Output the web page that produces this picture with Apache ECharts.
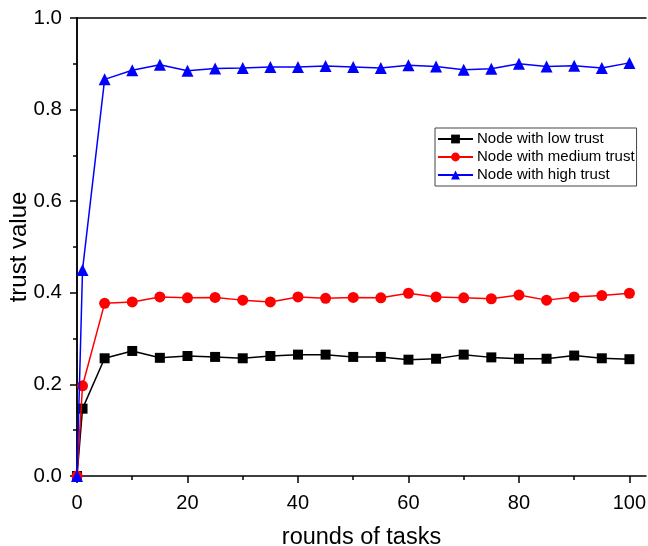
<!DOCTYPE html>
<html>
<head>
<meta charset="utf-8">
<script src="https://cdn.jsdelivr.net/npm/echarts@6/dist/echarts.min.js"></script>
<style>
html,body{margin:0;padding:0;background:#fff;}
#c{width:648px;height:546px;}
</style>
</head>
<body>
<div id="c"></div>
<script>
const rounds = [0, 1, 5, 10, 15, 20, 25, 30, 35, 40, 45, 50, 55, 60, 65, 70, 75, 80, 85, 90, 95, 100];
const lowTrust = [0, 0.147, 0.257, 0.273, 0.258, 0.262, 0.260, 0.257, 0.262, 0.265, 0.265, 0.260, 0.260, 0.254, 0.256, 0.265, 0.259, 0.256, 0.256, 0.263, 0.257, 0.255];
const mediumTrust = [0, 0.197, 0.377, 0.380, 0.391, 0.389, 0.390, 0.384, 0.380, 0.391, 0.388, 0.390, 0.389, 0.399, 0.391, 0.389, 0.387, 0.395, 0.384, 0.391, 0.394, 0.399];
const highTrust = [0, 0.45, 0.866, 0.886, 0.898, 0.885, 0.890, 0.891, 0.893, 0.893, 0.895, 0.893, 0.891, 0.897, 0.894, 0.887, 0.889, 0.900, 0.894, 0.896, 0.891, 0.902];
const xMajorTicks = [0, 20, 40, 60, 80, 100];
const xMinorTicks = [10, 30, 50, 70, 90];
const seriesNames = ['Node with low trust', 'Node with medium trust', 'Node with high trust'];

const FONT = '"Liberation Sans", Arial, sans-serif';
const X_MAX = 103;
const pair = (ys) => rounds.map((x, i) => [x, ys[i]]);

const chart = echarts.init(document.getElementById('c'), null, {renderer: 'canvas'});
chart.setOption({
  backgroundColor: '#fff',
  animation: false,
  textStyle: {fontFamily: FONT},
  grid: {left: 77, right: 2, top: 18, bottom: 70, outerBoundsMode: 'none', containLabel: false},
  legend: {
    orient: 'vertical',
    left: 435, top: 128,
    itemWidth: 35, itemHeight: 11,
    itemGap: 3,
    padding: [3.5, 2, 3.5, 2],
    borderColor: '#444', borderWidth: 1,
    backgroundColor: '#fff',
    textStyle: {fontFamily: FONT, fontSize: 15, color: '#000', lineHeight: 15, padding: [0, 0, 0, -1]},
    data: seriesNames
  },
  xAxis: [
    {
      type: 'value', min: 0, max: X_MAX, position: 'bottom',
      name: 'rounds of tasks', nameLocation: 'middle', nameGap: 50, nameMoveOverlap: false,
      nameTextStyle: {fontFamily: FONT, fontSize: 23.5, color: '#000'},
      axisLine: {show: true, lineStyle: {color: '#000', width: 1.5}},
      axisTick: {show: true, inside: false, length: 7, customValues: xMajorTicks, lineStyle: {color: '#000', width: 1.5}},
      axisLabel: {show: true, customValues: xMajorTicks, fontSize: 20, color: '#000', margin: 17, fontFamily: FONT},
      splitLine: {show: false}
    },
    {
      type: 'value', min: 0, max: X_MAX, position: 'bottom',
      axisLine: {show: false},
      axisTick: {show: true, inside: false, length: 4, customValues: xMinorTicks, lineStyle: {color: '#000', width: 1.5}},
      axisLabel: {show: false},
      splitLine: {show: false}
    },
    {
      type: 'value', min: 0, max: X_MAX, position: 'top',
      axisLine: {show: true, lineStyle: {color: '#000', width: 1.5}},
      axisTick: {show: false}, axisLabel: {show: false}, splitLine: {show: false}
    }
  ],
  yAxis: [
    {
      type: 'value', min: 0, max: 1, interval: 0.2, position: 'left',
      name: 'trust value', nameLocation: 'middle', nameGap: 46, nameRotate: 90, nameMoveOverlap: false,
      nameTextStyle: {fontFamily: FONT, fontSize: 24, color: '#000'},
      axisLine: {show: true, lineStyle: {color: '#000', width: 1.5}},
      axisTick: {show: true, inside: false, length: 7, lineStyle: {color: '#000', width: 1.5}},
      minorTick: {show: true, splitNumber: 2, length: 4, lineStyle: {color: '#000', width: 1.5}},
      axisLabel: {fontSize: 20.5, color: '#000', margin: 15, fontFamily: FONT, formatter: v => v.toFixed(1)},
      splitLine: {show: false}
    },
    {
      type: 'value', min: 0, max: 1, position: 'right',
      axisLine: {show: true, lineStyle: {color: '#000', width: 1.5}},
      axisTick: {show: false}, axisLabel: {show: false}, splitLine: {show: false}
    }
  ],
  series: [
    {
      name: seriesNames[0], type: 'line', data: pair(lowTrust),
      color: '#000', symbol: 'rect', symbolSize: 10,
      lineStyle: {width: 1.5, color: '#000'}, itemStyle: {color: '#000'}, z: 2
    },
    {
      name: seriesNames[1], type: 'line', data: pair(mediumTrust),
      color: '#ff0000', symbol: 'circle', symbolSize: 11,
      lineStyle: {width: 1.5, color: '#ff0000'}, itemStyle: {color: '#ff0000'}, z: 3
    },
    {
      name: seriesNames[2], type: 'line', data: pair(highTrust),
      color: '#0000ff', symbol: 'triangle', symbolSize: 12,
      lineStyle: {width: 1.5, color: '#0000ff'}, itemStyle: {color: '#0000ff'}, z: 4
    }
  ]
});
</script>
</body>
</html>
